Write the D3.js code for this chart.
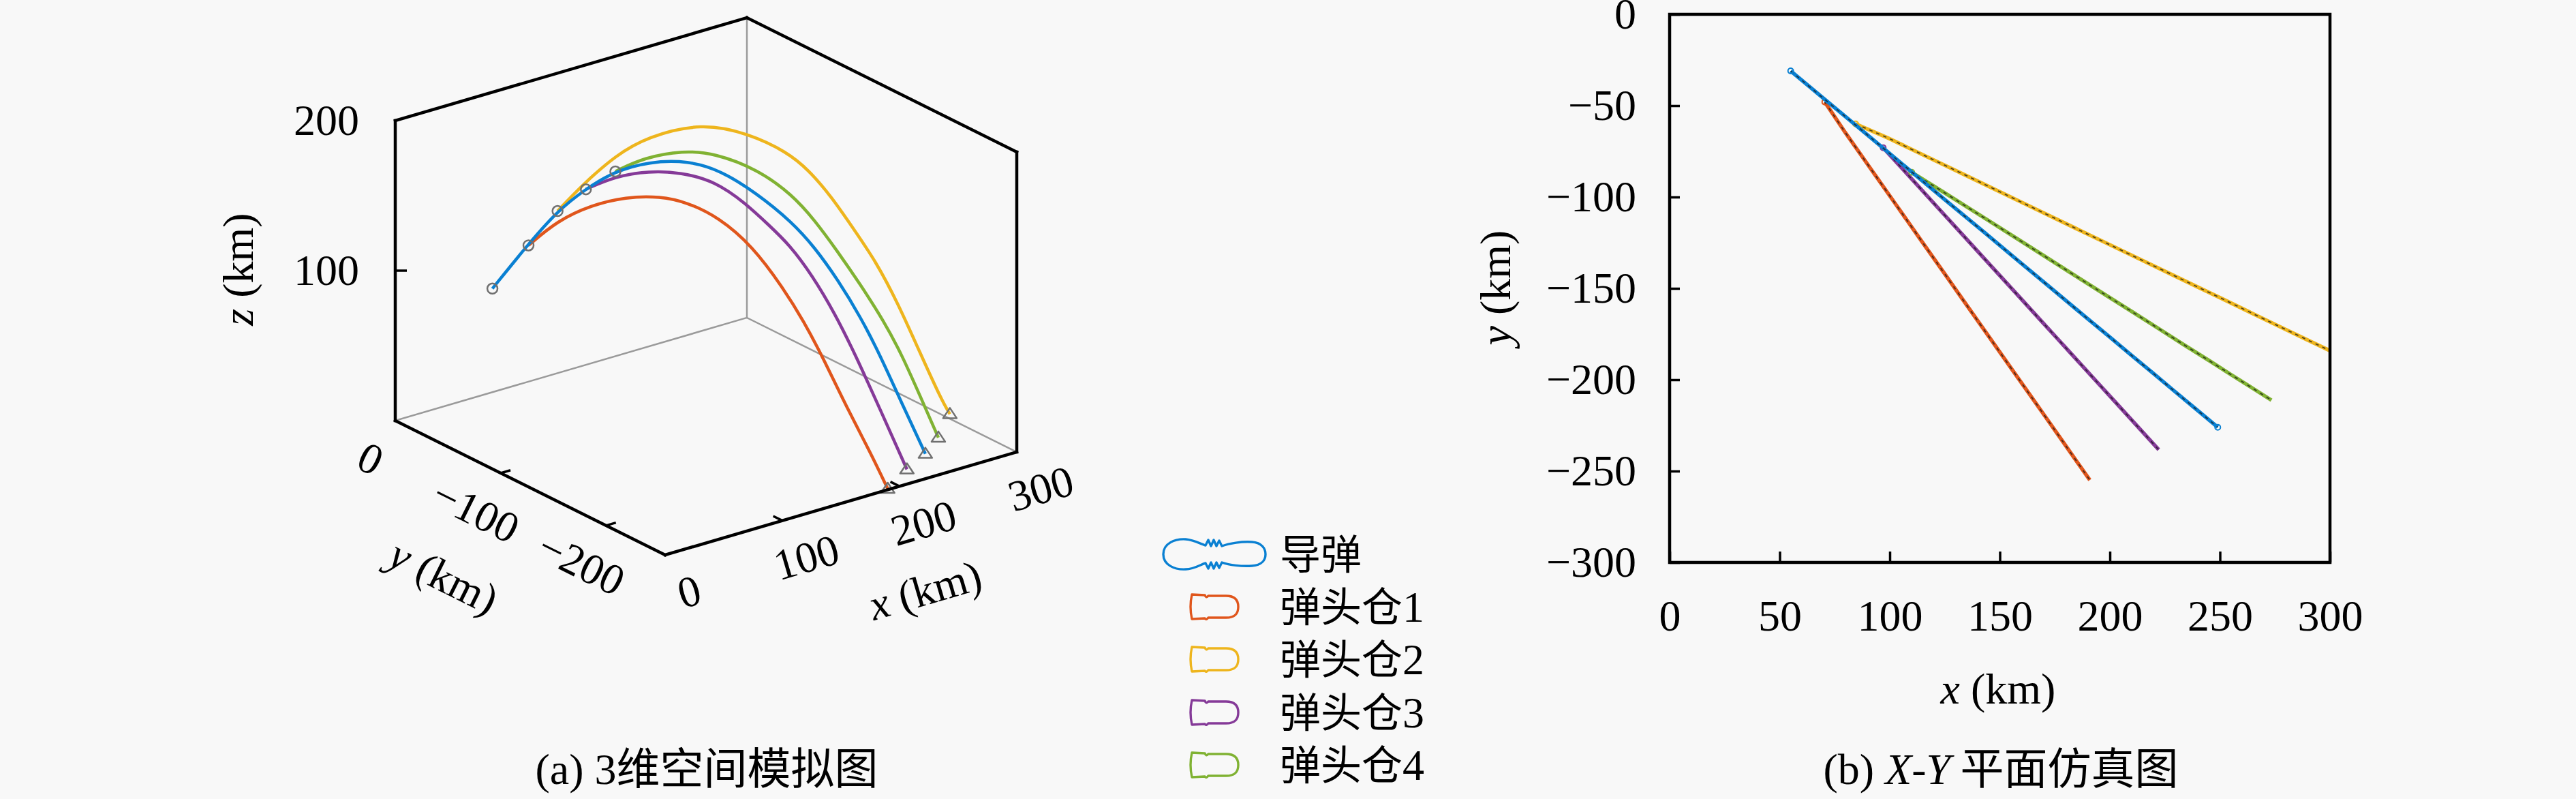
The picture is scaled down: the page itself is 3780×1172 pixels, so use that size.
<!DOCTYPE html>
<html>
<head>
<meta charset="utf-8">
<script src="https://cdn.jsdelivr.net/npm/d3@7"></script>
<style>
  body { margin: 0; background: #f8f8f8; }
</style>
</head>
<body>
<svg id="chart"></svg>
<script>
// series names / colours
const names = ['导弹', '弹头仓1', '弹头仓2', '弹头仓3', '弹头仓4'];
const colors = ['#0a80d2', '#e0561c', '#eeb51d', '#853a98', '#80b233'];

// trajectories, km
const missileX = [55, 70.7, 84, 96.6, 109.3, 125.3, 142.9, 157.1, 173.1, 189.2, 199.3, 209.8, 220, 228.6, 238.5, 249];
const missileY = [-31, -46.8, -60.1, -72.8, -85.6, -101.7, -119.3, -133.6, -149.7, -165.9, -176, -186.6, -196.8, -205.5, -215.4, -226];
const missileZ = [86.3, 117.2, 141.4, 157.6, 170.9, 179.7, 182.3, 177.7, 164.7, 147.2, 131.7, 111.2, 87.5, 63.6, 32.2, 0];

const pod1X = [70.5, 79.9, 91.4, 102.9, 114.4, 123.6, 134.1, 145.4, 155.8, 162.6, 169.5, 177.1, 185, 190.9];
const pod1Y = [-48, -64.9, -84.6, -104.3, -124, -139.7, -157.7, -177, -194.8, -206.4, -218.2, -231.2, -244.8, -254.9];
const pod1Z = [117.5, 137.7, 152.4, 162.1, 166.8, 166.1, 160, 145.2, 120.9, 101.6, 78.3, 49.4, 22.4, 0];

const pod2X = [84.5, 99.1, 117.7, 135.2, 165.8, 192, 213.6, 225.9, 238.6, 250.9, 263.2, 275.9, 288.2, 300.5, 305];
const pod2Y = [-60, -67.6, -78.4, -88.5, -106.3, -121.5, -134, -141.1, -148.5, -155.6, -162.8, -170.2, -177.3, -184.4, -187];
const pod2Z = [141.4, 158.4, 177.4, 189.2, 197.9, 190, 177.2, 164.7, 146.6, 125, 103.4, 74.5, 41.4, 9, 0];

const pod3X = [97, 108.4, 121.6, 134.1, 147.3, 159.2, 168.5, 176.4, 185.2, 194.2, 202.1, 211.7, 222.2];
const pod3Y = [-73, -88, -105.5, -122, -139.4, -155.1, -167.4, -177.8, -189.4, -201.3, -211.7, -224.4, -238.3];
const pod3Z = [157.6, 168.8, 175.5, 177.5, 174.7, 162.9, 150.1, 139.1, 121, 97.2, 71.8, 37.8, 0];

const pod4X = [110, 124.7, 144.5, 160.2, 181.8, 199.5, 210.8, 222.4, 233.7, 245.7, 254.9, 264.5, 273.4];
const pod4Y = [-86.5, -97.5, -112.6, -124.6, -141.2, -154.7, -163.3, -172.2, -180.9, -190, -197.1, -204.4, -211.2];
const pod4Z = [171.2, 181, 186.4, 185.2, 175.5, 159.1, 142.7, 122.3, 101, 77, 54.6, 26.4, 0];

// axis limits / ticks
const xLim3 = [0, 300], yLim3 = [0, -256], zLim3 = [0, 200];
const xTicks3 = [0, 100, 200, 300];
const yTicks3 = [0, -100, -200];
const zTicks3 = [100, 200];
const xTicks2 = [0, 50, 100, 150, 200, 250, 300];
const yTicks2 = [0, -50, -100, -150, -200, -250, -300];

const serif = "'Liberation Serif', 'DejaVu Serif', serif";
const cjk = "'Noto Sans CJK SC', 'Noto Sans CJK JP', sans-serif";
const FS = 64;

const W = 3780, H = 1172;
const svg = d3.select('#chart').attr('width', W).attr('height', H);
svg.append('rect').attr('width', W).attr('height', H).attr('fill', '#f8f8f8');

const series = [
  { x: pod1X, y: pod1Y, z: pod1Z, c: colors[1] },
  { x: pod2X, y: pod2Y, z: pod2Z, c: colors[2] },
  { x: pod3X, y: pod3Y, z: pod3Z, c: colors[3] },
  { x: pod4X, y: pod4Y, z: pod4Z, c: colors[4] },
  { x: missileX, y: missileY, z: missileZ, c: colors[0] }
];

// ---------- (a) 3D view ----------
const x3 = d3.scaleLinear().domain(xLim3).range([0, 1]);
const y3 = d3.scaleLinear().domain(yLim3).range([0, 1]);
const z3 = d3.scaleLinear().domain(zLim3).range([0, 1]);
const O = [580, 617], EX = [516, -151], EY = [396, 197], EZ = [0, -440];

function proj(x, y, z) {
  const a = x3(x), b = y3(y), c = z3(z);
  return [O[0] + a * EX[0] + b * EY[0] + c * EZ[0],
          O[1] + a * EX[1] + b * EY[1] + c * EZ[1]];
}

const g3 = svg.append('g');
const [xa, xb] = xLim3, [ya, yb] = yLim3, [za, zb] = zLim3;

function seg(p, q, stroke, w) {
  const a = proj(...p), b = proj(...q);
  g3.append('line')
    .attr('x1', a[0]).attr('y1', a[1]).attr('x2', b[0]).attr('y2', b[1])
    .attr('stroke', stroke).attr('stroke-width', w).attr('stroke-linecap', 'square');
}

// back edges (grey)
seg([xa, ya, za], [xb, ya, za], '#9a9a9a', 2.5);
seg([xb, ya, za], [xb, yb, za], '#9a9a9a', 2.5);
seg([xb, ya, za], [xb, ya, zb], '#9a9a9a', 2.5);

// trajectories
const line3 = d3.line().curve(d3.curveBasis);
series.forEach(s => {
  const pts = s.x.map((v, i) => proj(v, s.y[i], s.z[i]));
  g3.append('path').attr('d', line3(pts))
    .attr('fill', 'none').attr('stroke', s.c).attr('stroke-width', 4.5)
    .attr('stroke-linejoin', 'round');
});

// markers: circles at release points, triangles at impact
const markerColor = '#707070';
series.forEach(s => {
  const p0 = proj(s.x[0], s.y[0], s.z[0]);
  g3.append('circle').attr('cx', p0[0]).attr('cy', p0[1]).attr('r', 7.5)
    .attr('fill', 'none').attr('stroke', markerColor).attr('stroke-width', 2.5);
  const n = s.x.length - 1;
  const p1 = proj(s.x[n], s.y[n], s.z[n]);
  g3.append('path').attr('transform', `translate(${p1[0]},${p1[1]})`)
    .attr('d', 'M0,-9L10,6L-10,6Z')
    .attr('fill', 'none').attr('stroke', markerColor).attr('stroke-width', 2.5)
    .attr('stroke-linejoin', 'round');
});

// front edges (black)
seg([xa, ya, za], [xa, ya, zb], '#000', 4.5);
seg([xa, ya, zb], [xb, ya, zb], '#000', 4.5);
seg([xb, ya, zb], [xb, yb, zb], '#000', 4.5);
seg([xb, yb, zb], [xb, yb, za], '#000', 4.5);
seg([xa, ya, za], [xa, yb, za], '#000', 4.5);
seg([xa, yb, za], [xb, yb, za], '#000', 4.5);

// ticks
const fmt = d3.format('d');
const ux = [EX[0] / Math.hypot(...EX), EX[1] / Math.hypot(...EX)];
const uy = [-EY[0] / Math.hypot(...EY), -EY[1] / Math.hypot(...EY)];
function tick(p, d, len) {
  g3.append('line').attr('x1', p[0]).attr('y1', p[1])
    .attr('x2', p[0] + d[0] * len).attr('y2', p[1] + d[1] * len)
    .attr('stroke', '#000').attr('stroke-width', 3.5);
}
xTicks3.filter(t => t > xa && t < xb).forEach(t => tick(proj(t, yb, za), uy, 15));
yTicks3.filter(t => t < ya && t > yb).forEach(t => tick(proj(xa, t, za), ux, 15));
zTicks3.filter(t => t > za && t < zb).forEach(t => tick(proj(xa, ya, t), [1, 0], 17));

const angX = Math.atan2(EX[1], EX[0]) * 180 / Math.PI;
const angY = Math.atan2(EY[1], EY[0]) * 180 / Math.PI;

xTicks3.forEach(t => {
  const p = proj(t, yb, za);
  g3.append('text').attr('transform', `translate(${p[0] + 35},${p[1] + 53}) rotate(${angX})`)
    .attr('text-anchor', 'middle').attr('dy', '0.35em')
    .style('font-family', serif).style('font-size', FS + 'px').text(fmt(t));
});
yTicks3.forEach(t => {
  const p = proj(xa, t, za);
  g3.append('text').attr('transform', `translate(${p[0] - 36},${p[1] + 55}) rotate(${angY})`)
    .attr('text-anchor', 'middle').attr('dy', '0.35em')
    .style('font-family', serif).style('font-size', FS + 'px').text(fmt(t));
});
zTicks3.forEach(t => {
  const p = proj(xa, ya, t);
  g3.append('text').attr('x', p[0] - 53).attr('y', p[1])
    .attr('text-anchor', 'end').attr('dy', '0.33em')
    .style('font-family', serif).style('font-size', FS + 'px').text(fmt(t));
});

function axisLabel(parent, letter, tx, ty, rot) {
  const t = parent.append('text')
    .attr('transform', `translate(${tx},${ty}) rotate(${rot})`)
    .attr('text-anchor', 'middle').attr('dy', '0.3em')
    .style('font-family', serif).style('font-size', FS + 'px');
  t.append('tspan').style('font-style', 'italic').text(letter);
  t.append('tspan').text(' (km)');
}
axisLabel(g3, 'x', 1358, 868, angX);
axisLabel(g3, 'y', 650, 848, angY);
axisLabel(g3, 'z', 352, 395, -90);

// caption (a)
const capA = svg.append('text').attr('x', 1037).attr('y', 1150)
  .attr('text-anchor', 'middle').style('font-size', FS + 'px');
capA.append('tspan').style('font-family', serif).text('(a) 3');
capA.append('tspan').style('font-family', cjk).text('维空间模拟图');

// ---------- legend ----------
const legendY = [813, 890, 967, 1045, 1122];
const LFS = 60;
const lg = svg.append('g');
const missileIcon = 'M-75,0 C-75,-16 -58,-23 -42,-22 C-30,-21 -20,-15 -13,-13 ' +
  'L-9,-21 L-5,-12 L-1,-21 L3,-12 L7,-20 L11,-12 ' +
  'C22,-16 40,-19 55,-18 C70,-17 75,-8 75,0 C75,8 70,16 55,17 C40,18 22,16 11,12 ' +
  'L7,20 L3,12 L-1,21 L-5,12 L-9,21 L-13,13 ' +
  'C-20,15 -30,22 -42,22 C-58,23 -75,16 -75,0 Z';
const podIcon = 'M-33,-18 L-14,-17 Q-12,-12 -9,-16 L17,-16 C32,-16 35,-8 35,0 ' +
  'C35,8 32,16 17,16 L-9,16 Q-12,20 -14,17 L-33,18 Q-37,0 -33,-18 Z';
names.forEach((nm, i) => {
  lg.append('path').attr('transform', `translate(1782,${legendY[i]})`)
    .attr('d', i === 0 ? missileIcon : podIcon)
    .attr('fill', 'none').attr('stroke', colors[i]).attr('stroke-width', 3.4)
    .attr('stroke-linejoin', 'round');
  const t = lg.append('text').attr('x', 1878).attr('y', legendY[i] + 22)
    .style('font-size', LFS + 'px');
  const m = nm.match(/^(\D+)(\d*)$/);
  t.append('tspan').style('font-family', cjk).text(m[1]);
  if (m[2]) t.append('tspan').style('font-family', serif).style('font-size', (LFS + 4) + 'px').text(m[2]);
});

// ---------- (b) X-Y plane ----------
const xs = d3.scaleLinear().domain([0, 300]).range([2450, 3419]);
const ys = d3.scaleLinear().domain([0, -300]).range([21, 825]);
const g2 = svg.append('g');

g2.append('clipPath').attr('id', 'clipB').append('rect')
  .attr('x', xs(0)).attr('y', ys(0))
  .attr('width', xs(300) - xs(0)).attr('height', ys(-300) - ys(0));

const line2 = d3.line().x(d => xs(d[0])).y(d => ys(d[1]));
const lines2 = g2.append('g').attr('clip-path', 'url(#clipB)');
series.forEach(s => {
  const pts = s.x.map((v, i) => [v, s.y[i]]);
  lines2.append('path').attr('d', line2(pts))
    .attr('fill', 'none').attr('stroke', s.c).attr('stroke-width', 5.5);
  lines2.append('path').attr('d', line2(pts))
    .attr('fill', 'none').attr('stroke', '#1a1a1a').attr('stroke-width', 1.8)
    .attr('stroke-dasharray', '5 6').attr('opacity', 0.75);
  lines2.append('circle').attr('cx', xs(s.x[0])).attr('cy', ys(s.y[0])).attr('r', 4)
    .attr('fill', 'none').attr('stroke', s.c).attr('stroke-width', 2);
});
lines2.append('circle')
  .attr('cx', xs(missileX[missileX.length - 1])).attr('cy', ys(missileY[missileY.length - 1]))
  .attr('r', 4).attr('fill', 'none').attr('stroke', colors[0]).attr('stroke-width', 2);

const axB = g2.append('g').attr('transform', `translate(0,${ys(-300)})`)
  .call(d3.axisBottom(xs).tickValues(xTicks2).tickFormat(fmt)
    .tickSize(-16).tickSizeOuter(0).tickPadding(55));
const axL = g2.append('g').attr('transform', `translate(${xs(0)},0)`)
  .call(d3.axisLeft(ys).tickValues(yTicks2).tickFormat(fmt)
    .tickSize(-15).tickSizeOuter(0).tickPadding(49));
[axB, axL].forEach(a => {
  a.select('.domain').remove();
  a.selectAll('line').attr('stroke', '#000').attr('stroke-width', 3.5);
  a.selectAll('text').attr('fill', '#000')
    .style('font-family', serif).style('font-size', FS + 'px');
});

g2.append('rect')
  .attr('x', xs(0)).attr('y', ys(0))
  .attr('width', xs(300) - xs(0)).attr('height', ys(-300) - ys(0))
  .attr('fill', 'none').attr('stroke', '#000').attr('stroke-width', 4.5);

axisLabel(g2, 'x', 2932, 1013, 0);
axisLabel(g2, 'y', 2197, 422, -90);

// caption (b)
const capB = svg.append('text').attr('x', 2936).attr('y', 1150)
  .attr('text-anchor', 'middle').style('font-size', FS + 'px');
capB.append('tspan').style('font-family', serif).text('(b) ');
capB.append('tspan').style('font-family', serif).style('font-style', 'italic').text('X');
capB.append('tspan').style('font-family', serif).text('-');
capB.append('tspan').style('font-family', serif).style('font-style', 'italic').text('Y');
capB.append('tspan').style('font-family', cjk).text(' 平面仿真图');
</script>
</body>
</html>
